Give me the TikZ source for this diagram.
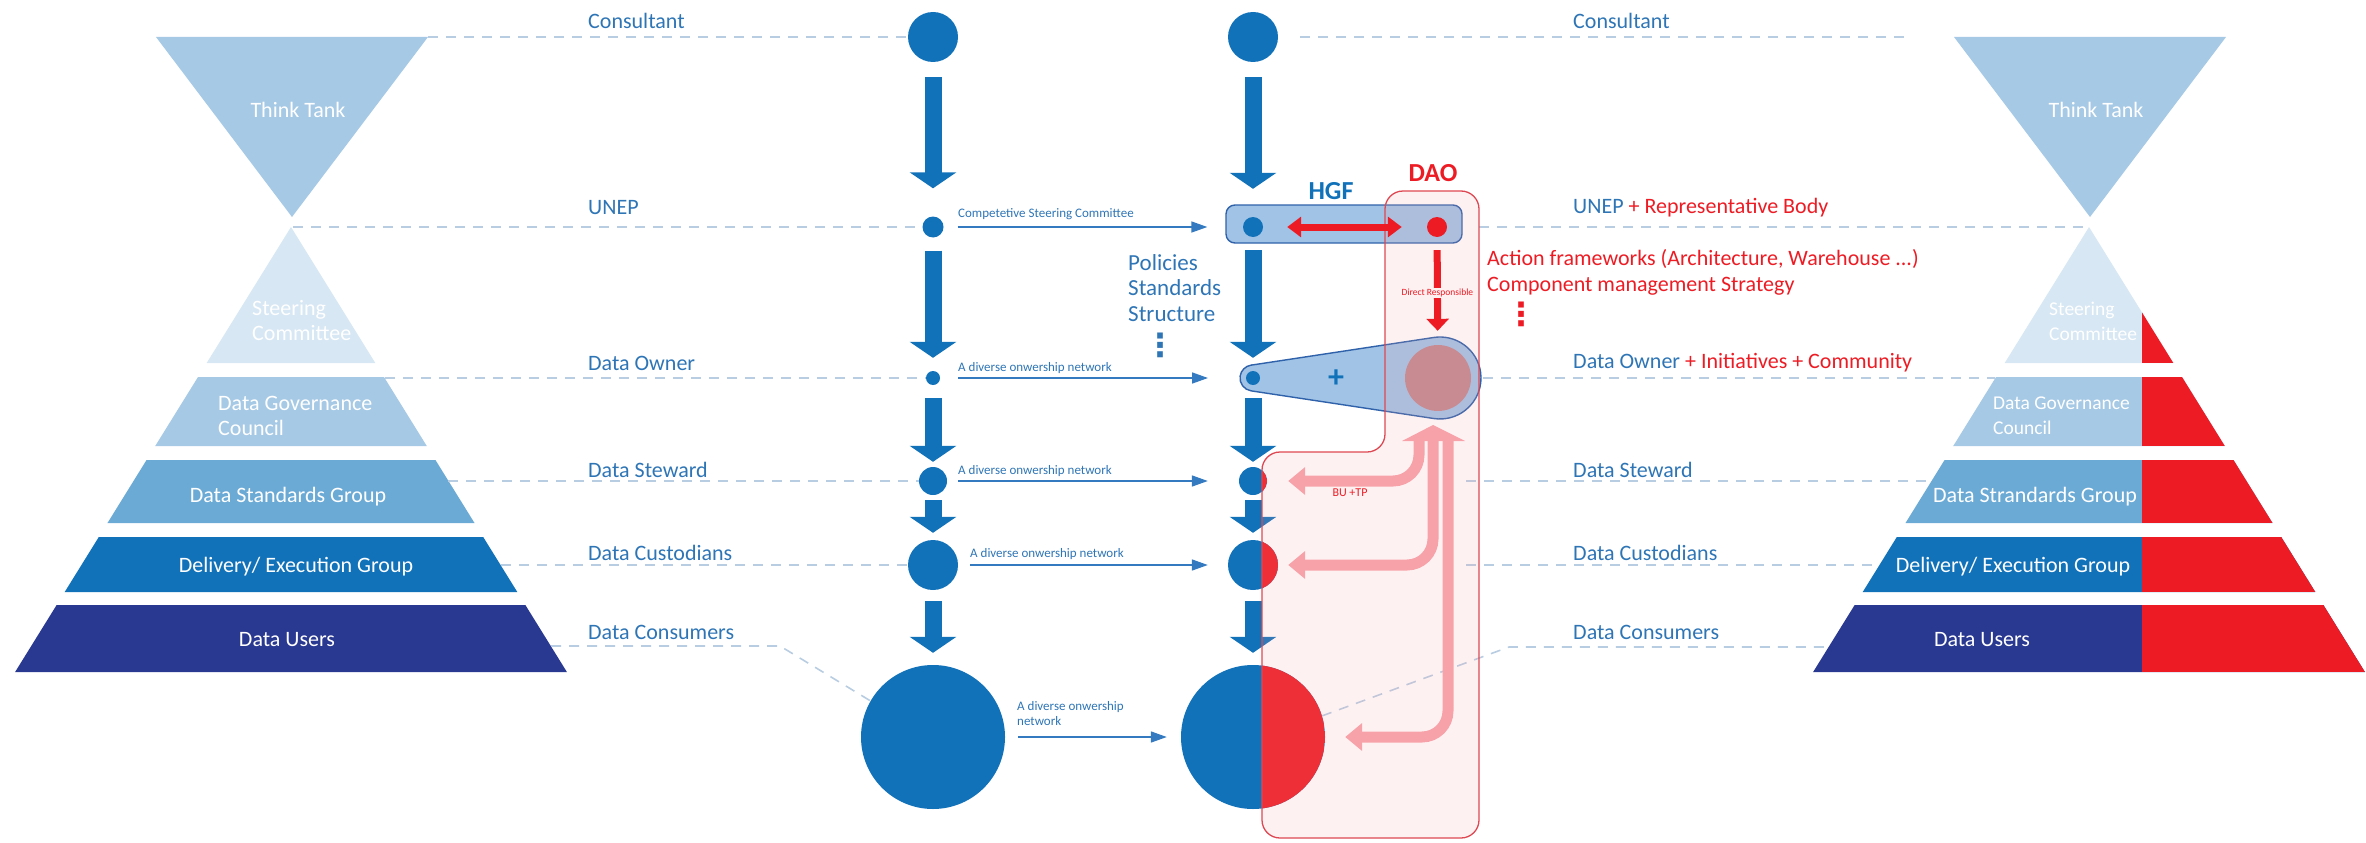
\documentclass[tikz,border=0pt]{standalone}
\usepackage{fontspec}
\setmainfont{Carlito}
\newfontfamily\symfont{DejaVu Sans}
\usetikzlibrary{arrows.meta,positioning,calc}
\definecolor{gvblue}{RGB}{17,114,186}
\definecolor{gvtext}{RGB}{46,117,182}
\definecolor{gvthin}{RGB}{52,122,192}
\definecolor{gvred}{RGB}{237,28,36}
\definecolor{gvnavy}{RGB}{41,56,144}
\definecolor{gvmid}{RGB}{108,170,214}
\definecolor{gvlight}{RGB}{166,201,229}
\definecolor{gvpale}{RGB}{215,231,244}
\definecolor{gvdash}{RGB}{184,205,226}
\definecolor{gvpink}{RGB}{246,162,168}
\definecolor{gvrose}{RGB}{201,139,146}
\definecolor{gvbox}{RGB}{120,170,220}
\definecolor{gvedge}{RGB}{47,98,170}
\definecolor{gvdaoline}{RGB}{222,72,82}
\definecolor{gvdaobg}{RGB}{253,241,242}
\pgfdeclarelayer{back}
\pgfsetlayers{back,main}

\begin{document}
\begin{tikzpicture}[x=1pt, y=-1pt,
  lbl/.style={font=\fontsize{22}{26}\selectfont, text=gvtext, anchor=west, inner sep=0pt},
  pyrtxt/.style={font=\fontsize{22}{25}\selectfont, text=white, inner sep=0pt, align=left},
  nettxt/.style={font=\fontsize{13}{15}\selectfont, text=gvtext, anchor=base west, inner sep=0pt, align=left},
  dotstack/.style={font=\symfont\bfseries\fontsize{32}{32}\selectfont, inner sep=0pt},
  gvdot/.style={circle, fill=gvblue, inner sep=0pt, minimum size=#1},
  splitdot/.style={gvdot=#1, path picture={\fill[gvred] ([xshift=9pt]path picture bounding box.north) rectangle (path picture bounding box.south east);}},
  levelline/.style={draw=gvdash, line width=1.6pt, dash pattern=on 10pt off 8pt},
  bigarrow/.style={draw=gvblue, line width=17pt, -{Triangle[width=46pt,length=16pt]}},
  netarrow/.style={draw=gvthin, line width=1.6pt, -{Triangle[width=11pt,length=16pt]}},
  redarrow/.style={draw=gvred, line width=7pt},
  pinkarrow/.style={draw=gvpink, line width=11pt, rounded corners=26pt, -{Triangle[width=27pt,length=17pt]}},
]
\useasboundingbox (0,0) rectangle (2366,843);

% Think tanks
\foreach \cx/\side in {292/L,2090/R} {
  \fill[gvlight] (\cx-136,37) -- (\cx+136,37) -- (\cx,217) -- cycle;
  \node[pyrtxt] (tt\side) at (\cx+6,110) {Think Tank};
}

% Pyramid bands
\foreach \cx in {291,2089} {
  \foreach \yt/\yb/\bandcol in {227/363/gvpale,377/446/gvlight,460/523/gvmid,537/592/gvblue,605/672/gvnavy} {
    \pgfmathsetmacro\htop{0.62*(\yt-227)}
    \pgfmathsetmacro\hbot{0.62*(\yb-227)}
    \fill[\bandcol] (\cx-\htop,\yt) -- (\cx+\htop,\yt) -- (\cx+\hbot,\yb) -- (\cx-\hbot,\yb) -- cycle;
  }
}
% red share of the right pyramid
\foreach \yt/\yb in {227/363,377/446,460/523,537/592,605/672} {
  \pgfmathsetmacro\htop{0.62*(\yt-227)}
  \pgfmathsetmacro\hbot{0.62*(\yb-227)}
  \begin{scope}
    \clip (2089-\htop,\yt) -- (2089+\htop,\yt) -- (2089+\hbot,\yb) -- (2089-\hbot,\yb) -- cycle;
    \fill[gvred] (2142,\yt) rectangle (2400,\yb);
  \end{scope}
}

% Band texts
\node[pyrtxt, anchor=west] (scL) at (252,321) {Steering\\Committee};
\node[pyrtxt, anchor=west] (dgcL) at (218,416) {Data Governance\\Council};
\node[pyrtxt] (dsgL) at (288,497) {Data Standards Group};
\node[pyrtxt] (degL) at (296,567) {Delivery/ Execution Group};
\node[pyrtxt] (duL) at (287,640) {Data Users};
\node[pyrtxt, anchor=west, font=\fontsize{19.5}{25}\selectfont] (scR) at (2049,321) {Steering\\Committee};
\node[pyrtxt, anchor=west, font=\fontsize{19.5}{25}\selectfont] (dgcR) at (1993,416) {Data Governance\\Council};
\node[pyrtxt] (dsgR) at (2035,497) {Data Strandards Group};
\node[pyrtxt] (degR) at (2013,567) {Delivery/ Execution Group};
\node[pyrtxt] (duR) at (1982,640) {Data Users};

% Level labels
\node[lbl] (conL) at (588,21) {Consultant};
\node[lbl] (unepL) at (588,208) {UNEP};
\node[lbl] (ownL) at (588,363) {Data Owner};
\node[lbl] (stewL) at (588,470) {Data Steward};
\node[lbl] (custL) at (588,553) {Data Custodians};
\node[lbl] (consL) at (588,632) {Data Consumers};
\node[lbl] (conR) at (1573,21) {Consultant};
\node[lbl] (unepR) at (1573,208) {UNEP \textcolor{gvred}{+ Representative Body}};
\node[lbl] (ownR) at (1573,363) {Data Owner \textcolor{gvred}{+ Initiatives + Community}};
\node[lbl] (stewR) at (1573,470) {Data Steward};
\node[lbl] (custR) at (1573,553) {Data Custodians};
\node[lbl] (consR) at (1573,632) {Data Consumers};

% HGF box and owner drop
\begin{pgfonlayer}{back}
  \node[draw=gvedge, line width=1.4pt, fill=gvbox, fill opacity=.7, rounded corners=9pt,
        minimum width=236pt, minimum height=38pt] (hgf) at (1344,224) {};
  \draw[draw=gvedge, line width=1.4pt, fill=gvbox, fill opacity=.7]
    (1251.05,365.15) -- (1433.86,337.46) arc[start angle=-98.61, end angle=98.61, radius=41]
    -- (1251.05,390.85) arc[start angle=98.61, end angle=261.39, radius=13] -- cycle;
\end{pgfonlayer}
\node[font=\bfseries\fontsize{32}{32}\selectfont, text=gvblue] (plus) at (1336,379) {+};

% Columns
\foreach \nm/\y/\d in {1/37/50pt,2/227/21pt,3/378/14pt,4/481/28pt,5/565/50pt,6/737/144pt}
  \node[gvdot=\d] (lc\nm) at (933,\y) {};
\node[gvdot=50pt] (rc1) at (1253,37) {};
\node[gvdot=20pt] (rc2) at (1253,227) {};
\node[gvdot=14pt] (rc3) at (1253,378) {};
\node[splitdot=28pt] (rc4) at (1253,481) {};
\node[splitdot=50pt] (rc5) at (1253,565) {};
\node[splitdot=144pt] (rc6) at (1253,737) {};

\foreach \c in {lc,rc} {
  \draw[bigarrow, shorten <=15pt, shorten >=28pt] (\c1) -- (\c2);
  \draw[bigarrow, shorten <=13pt, shorten >=13pt] (\c2) -- (\c3);
  \draw[bigarrow, shorten <=13pt, shorten >=5pt] (\c3) -- (\c4);
  \draw[bigarrow, shorten <=5pt, shorten >=7pt] (\c4) -- (\c5);
  \draw[bigarrow, shorten <=11pt, shorten >=12pt] (\c5) -- (\c6);
}

% Dashed level lines
\coordinate (dl1) at (428,37);  \coordinate (dr1) at (1906,37);  \coordinate (sr1) at (1300,37);
\coordinate (dl2) at (293,227); \coordinate (dr2) at (2090,227); \coordinate (sr2) at (1479,227);
\coordinate (dl3) at (385,378); \coordinate (dr3) at (1995,378); \coordinate (sr3) at (1483,378);
\coordinate (dl4) at (448,481); \coordinate (dr4) at (1931,481); \coordinate (sr4) at (1466,481);
\coordinate (dl5) at (501,565); \coordinate (dr5) at (1878,565); \coordinate (sr5) at (1466,565);
\coordinate (dl6) at (551,646); \coordinate (kl6) at (780,646);
\coordinate (kr6) at (1509,647); \coordinate (dr6) at (1829,647);
\foreach \i in {1,...,5} {
  \draw[levelline] (dl\i) -- (lc\i.west);
  \draw[levelline] (sr\i) -- (dr\i);
}
\draw[levelline] (dl6) -- (kl6) -- (lc6.150);
\draw[levelline] (rc6.17) -- (kr6) -- (dr6);

% Ownership arrows
\coordinate (tearL) at (1240,378);
\draw[netarrow, shorten <=14pt, shorten >=18pt] (lc2.east) -- (lc2.east -| hgf.west);
\node[nettxt] (netA) at (958,217) {Competetive Steering Committee};
\draw[netarrow, shorten <=18pt, shorten >=32pt] (lc3.east) -- (tearL);
\node[nettxt] (netB) at (958,371) {A diverse onwership network};
\draw[netarrow, shorten <=11pt, shorten >=31pt] (lc4) -- (rc4);
\node[nettxt] (netC) at (958,474) {A diverse onwership network};
\draw[netarrow, shorten <=12pt, shorten >=20pt] (lc5) -- (rc5);
\node[nettxt] (netD) at (970,557) {A diverse onwership network};
\draw[netarrow, shorten <=13pt, shorten >=14pt] (lc6) -- (rc6);
\node[nettxt, anchor=north west] (netE) at (1017,701) {A diverse onwership\\network};

\node[font=\fontsize{23}{25.5}\selectfont, text=gvtext, anchor=north west, align=left, inner sep=0pt]
  (pss) at (1128,254) {Policies\\Standards\\Structure};
\node[dotstack, text=gvtext] (pdots) at (1160,345) {⋮};

% DAO region
\draw[draw=gvdaoline, line width=1.3pt, fill=gvpink, fill opacity=.15, rounded corners=18pt]
  (1262,838) -- (1262,452) -- (1385,452) -- (1385,191) -- (1479,191) -- (1479,838) -- cycle;
\node[font=\bfseries\fontsize{26}{26}\selectfont, text=gvblue] (hgflbl) at (1331,191) {HGF};
\node[font=\bfseries\fontsize{26}{26}\selectfont, text=gvred] (daolbl) at (1433,173) {DAO};
\node[gvdot=20pt, fill=gvred] (dao1) at (1437,227) {};
\node[circle, fill=gvrose, inner sep=0pt, minimum size=66pt] (dao2) at (1438,378) {};
\draw[redarrow, {Triangle[width=20pt,length=14pt]}-{Triangle[width=20pt,length=14pt]},
      shorten <=24pt, shorten >=25pt] (rc2) -- (dao1);
\draw[redarrow, -{Triangle[width=22pt,length=12pt]}, shorten <=13pt, shorten >=14pt] (dao1) -- (dao2)
  node[midway, yshift=-2pt, fill=gvdaobg, inner sep=1pt, text=gvred, font=\fontsize{9.5}{10}\selectfont] (dresp) {Direct Responsible};

\node[font=\fontsize{22}{26}\selectfont, text=gvred, anchor=north west, align=left, inner sep=0pt]
  (actf) at (1487,249) {Action frameworks (Architecture, Warehouse ...)\\Component management Strategy};
\node[dotstack, text=gvred] (adots) at (1521,314) {⋮};

% Bottom-up feedback
\fill[gvpink] (1433,425) -- (1465,441) -- (1402,441) -- cycle;
\coordinate (bu1) at (1419,441);
\coordinate (bu2) at (1433,441);
\coordinate (bu3) at (1448,441);
\draw[pinkarrow, shorten >=21pt] (bu1) |- (rc4.east);
\draw[pinkarrow, shorten >=10pt] (bu2) |- (rc5.east);
\draw[pinkarrow, shorten >=20pt] (bu3) |- (rc6.east);
\node[font=\fontsize{12}{14}\selectfont, text=gvred] (butp) at (1350,493) {BU +TP};
\end{tikzpicture}
\end{document}
